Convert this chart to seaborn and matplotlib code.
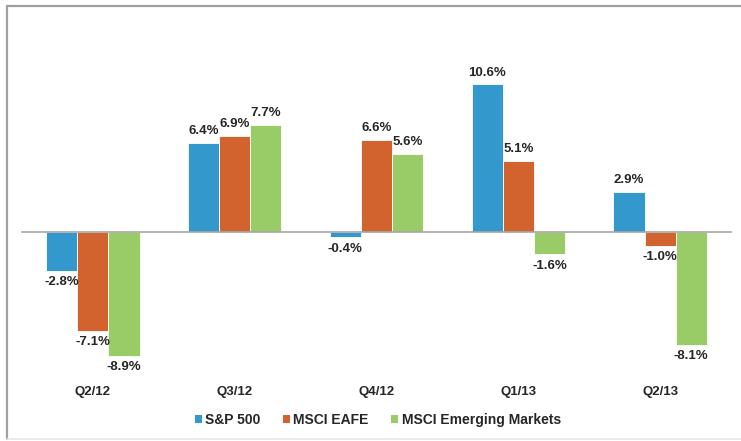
import pandas as pd
import numpy as np
import matplotlib
matplotlib.use("Agg")
import matplotlib.pyplot as plt
from matplotlib.lines import Line2D
from matplotlib.patches import Patch
import seaborn as sns

# Quarterly returns by index
quarters = ["Q2/12", "Q3/12", "Q4/12", "Q1/13", "Q2/13"]
series_names = ["S&P 500", "MSCI EAFE", "MSCI Emerging Markets"]
sp500 = [-2.8, 6.4, -0.4, 10.6, 2.9]
msci_eafe = [-7.1, 6.9, 6.6, 5.1, -1.0]
msci_em = [-8.9, 7.7, 5.6, -1.6, -8.1]
colors = ["#3399cc", "#d2632e", "#99cc66"]

df = pd.DataFrame({
    "Quarter": quarters * 3,
    "Index": [series_names[0]] * 5 + [series_names[1]] * 5 + [series_names[2]] * 5,
    "Return": sp500 + msci_eafe + msci_em,
})

sns.set_style("white")
plt.rcParams["font.family"] = ["Liberation Sans", "DejaVu Sans"]

fig = plt.figure(figsize=(7.41, 4.41), dpi=100)
ax = fig.add_axes([22 / 741, 70 / 441, 709 / 741, 320 / 441])

sns.barplot(data=df, x="Quarter", y="Return", hue="Index", order=quarters,
            hue_order=series_names, palette=colors, width=0.66, saturation=1,
            edgecolor="white", linewidth=0.6, ax=ax, legend=False)

ax.set_xlim(-0.5, 4.5)
ax.set_ylim(-10, 13)
ax.set_xlabel("")
ax.set_ylabel("")
ax.set_yticks([])

# axis line through zero with small ticks between quarters
for s in ["top", "right", "left"]:
    ax.spines[s].set_visible(False)
ax.spines["bottom"].set_position(("data", 0))
ax.spines["bottom"].set_color("#a6a6a6")
ax.spines["bottom"].set_linewidth(1.2)
ax.set_xticks(np.arange(-0.5, 5, 1.0))
ax.set_xticklabels([])
ax.tick_params(axis="x", length=4, width=1, color="#a6a6a6", direction="out")

for i, q in enumerate(quarters):
    ax.text(i, -11.5, q, ha="center", va="center", fontsize=9.5,
            fontweight="bold", clip_on=False)

# value labels
for cont, vals in zip(ax.containers, [sp500, msci_eafe, msci_em]):
    ax.bar_label(cont, labels=[f"{v:.1f}%" for v in vals], padding=4,
                 fontsize=9.5, fontweight="bold")

# legend at the bottom
handles = [Patch(facecolor=c, edgecolor="none") for c in colors]
fig.legend(handles, series_names, loc="center", bbox_to_anchor=(0.51, 21 / 441),
           ncol=3, frameon=False, handlelength=0.5, handleheight=0.5,
           handletextpad=0.25, columnspacing=1.6, prop={"weight": "bold", "size": 10})

# outer frame like the original chart box
fig.add_artist(Line2D([7 / 741, 7 / 741], [1 - 439 / 441, 1 - 6 / 441],
                      transform=fig.transFigure, color="#a0a0a0", lw=1.6))
fig.add_artist(Line2D([7 / 741, 1.0], [1 - 6 / 441, 1 - 6 / 441],
                      transform=fig.transFigure, color="#a0a0a0", lw=1.6))
fig.add_artist(Line2D([7 / 741, 1.0], [1 - 439 / 441, 1 - 439 / 441],
                      transform=fig.transFigure, color="#e6e6e6", lw=1.2))

fig.savefig("out.png", dpi=100)
